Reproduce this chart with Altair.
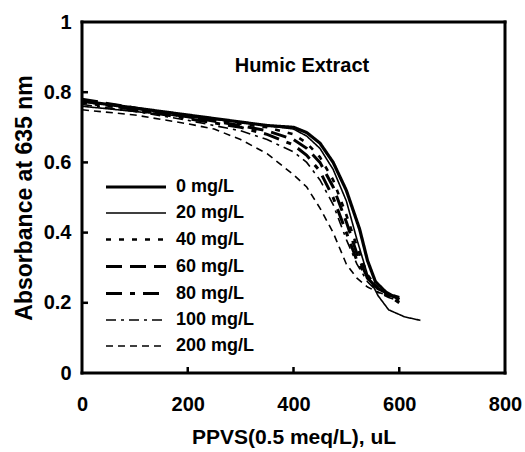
import altair as alt
import pandas as pd

# Titration curves: absorbance at 635 nm vs. PPVS volume added, one per humic extract dose
series_names = ["0 mg/L", "20 mg/L", "40 mg/L", "60 mg/L", "80 mg/L", "100 mg/L", "200 mg/L"]

x_0 = [0, 100, 200, 300, 350, 400, 425, 450, 475, 500, 525, 540, 555, 575, 600]
y_0 = [0.775, 0.755, 0.735, 0.715, 0.705, 0.70, 0.685, 0.655, 0.60, 0.52, 0.41, 0.32, 0.26, 0.23, 0.21]

x_20 = [0, 100, 200, 300, 350, 400, 425, 450, 475, 500, 520, 540, 560, 580, 610, 640]
y_20 = [0.76, 0.745, 0.73, 0.715, 0.705, 0.695, 0.675, 0.64, 0.58, 0.49, 0.38, 0.28, 0.22, 0.18, 0.16, 0.15]

x_40 = [0, 100, 200, 300, 350, 400, 425, 450, 475, 500, 520, 540, 560, 580, 600]
y_40 = [0.77, 0.75, 0.73, 0.71, 0.70, 0.68, 0.655, 0.615, 0.55, 0.45, 0.36, 0.28, 0.24, 0.22, 0.21]

x_60 = [0, 100, 200, 300, 350, 400, 425, 450, 475, 500, 520, 540, 560, 580, 600]
y_60 = [0.78, 0.755, 0.73, 0.705, 0.69, 0.665, 0.64, 0.60, 0.53, 0.43, 0.34, 0.27, 0.24, 0.225, 0.215]

x_80 = [0, 100, 200, 300, 350, 400, 425, 450, 475, 500, 520, 540, 560, 580, 600]
y_80 = [0.775, 0.75, 0.725, 0.70, 0.68, 0.65, 0.62, 0.575, 0.50, 0.40, 0.32, 0.27, 0.24, 0.22, 0.20]

x_100 = [0, 100, 200, 300, 350, 400, 425, 450, 475, 500, 520, 540, 560, 580, 600]
y_100 = [0.765, 0.745, 0.72, 0.69, 0.665, 0.63, 0.60, 0.55, 0.48, 0.38, 0.31, 0.26, 0.23, 0.215, 0.205]

x_200 = [0, 100, 200, 250, 300, 350, 400, 425, 450, 475, 500, 520, 540, 560, 580, 600]
y_200 = [0.75, 0.735, 0.71, 0.695, 0.665, 0.625, 0.565, 0.53, 0.47, 0.40, 0.31, 0.27, 0.245, 0.23, 0.22, 0.21]

xs = [x_0, x_20, x_40, x_60, x_80, x_100, x_200]
ys = [y_0, y_20, y_40, y_60, y_80, y_100, y_200]

# Axis ranges; the frame outlines the full domain
x_domain = [0, 800]
y_domain = [0, 1]

# Axis tick positions (ticks point into the plot)
x_ticks = [200, 400, 600]
y_ticks = [0.2, 0.4, 0.6, 0.8]

# Panel caption, placed in data units
caption_text = ["Humic Extract"]
caption_x = [416]
caption_y = [0.875]

PLOT_W, PLOT_H = 423, 351
FONT = "Liberation Sans"

x0, x1 = x_domain
y0, y1 = y_domain
ux = (x1 - x0) / PLOT_W   # data units per pixel, horizontally
uy = (y1 - y0) / PLOT_H   # data units per pixel, vertically

rows = []
for name, xv, yv in zip(series_names, xs, ys):
    for i, (a, b) in enumerate(zip(xv, yv)):
        rows.append({"series": name, "ppvs": a, "absorbance": b, "order": i})
df = pd.DataFrame(rows)
caption_df = pd.DataFrame({"text": caption_text, "ppvs": caption_x, "absorbance": caption_y})

# Frame edges and tick stubs as thin filled bars in data units
half = 1.5
bars = [
    {"xa": x0 - half * ux, "xb": x1 + half * ux, "ya": y0 - half * uy, "yb": y0 + half * uy},
    {"xa": x0 - half * ux, "xb": x1 + half * ux, "ya": y1 - half * uy, "yb": y1 + half * uy},
    {"xa": x0 - half * ux, "xb": x0 + half * ux, "ya": y0 - half * uy, "yb": y1 + half * uy},
    {"xa": x1 - half * ux, "xb": x1 + half * ux, "ya": y0 - half * uy, "yb": y1 + half * uy},
]
for t in x_ticks:
    bars.append({"xa": t - 1.25 * ux, "xb": t + 1.25 * ux, "ya": y0, "yb": y0 + 6 * uy})
for t in y_ticks:
    bars.append({"xa": x0, "xb": x0 + 6 * ux, "ya": t - 1.25 * uy, "yb": t + 1.25 * uy})
bars_df = pd.DataFrame(bars)

dash_patterns = [[1, 0], [1, 0], [5, 8], [16, 8], [16, 8, 5, 8], [10, 5, 3, 5], [7, 5]]
line_widths = [3.2, 1.6, 2.6, 3.0, 3.0, 1.6, 1.6]

x_scale = alt.Scale(domain=x_domain, nice=False)
y_scale = alt.Scale(domain=y_domain, nice=False)

lines = alt.Chart(df).mark_line(color="black", strokeCap="butt").encode(
    x=alt.X("ppvs:Q", scale=x_scale,
            axis=alt.Axis(title="PPVS(0.5 meq/L), uL", values=[0, 200, 400, 600, 800],
                          labelPadding=21, titlePadding=12, titleFontSize=21, labelFlush=False)),
    y=alt.Y("absorbance:Q", scale=y_scale,
            axis=alt.Axis(title="Absorbance at 635 nm", values=[0, 0.2, 0.4, 0.6, 0.8, 1],
                          labelPadding=11, titlePadding=7, titleFontSize=23,
                          labelExpr="datum.value == 0 || datum.value == 1 ? format(datum.value, 'd') : format(datum.value, '.1f')")),
    strokeDash=alt.StrokeDash("series:N",
                              scale=alt.Scale(type="ordinal", domain=series_names, range=dash_patterns),
                              legend=alt.Legend(title=None)),
    strokeWidth=alt.StrokeWidth("series:N",
                                scale=alt.Scale(type="ordinal", domain=series_names, range=line_widths),
                                legend=alt.Legend(title=None)),
    detail="series:N",
    order="order:Q",
)

frame = alt.Chart(bars_df).mark_rect(color="black", filled=True, opacity=1, strokeWidth=0).encode(
    x=alt.X("xa:Q", scale=x_scale),
    x2="xb:Q",
    y=alt.Y("ya:Q", scale=y_scale),
    y2="yb:Q",
)

caption = alt.Chart(caption_df).mark_text(
    font=FONT, fontSize=20, fontWeight="bold", color="black", baseline="middle", align="center"
).encode(
    x=alt.X("ppvs:Q", scale=x_scale),
    y=alt.Y("absorbance:Q", scale=y_scale),
    text="text:N",
)

chart = alt.layer(lines, frame, caption).properties(
    width=PLOT_W,
    height=PLOT_H,
    autosize=alt.AutoSizeParams(type="none"),
    padding={"left": 82, "top": 22, "right": 20, "bottom": 79},
).configure_view(
    stroke=None
).configure_axis(
    labelFont=FONT, labelFontSize=20, labelFontWeight="bold", labelColor="black",
    titleFont=FONT, titleFontWeight="bold", titleColor="black",
    grid=False, ticks=False, domain=False,
).configure_legend(
    orient="none", legendX=42, legendY=153,
    symbolType="M-3,0L3,0", symbolSize=400, symbolStrokeColor="black",
    labelFont=FONT, labelFontSize=18, labelFontWeight="bold", labelColor="black",
    rowPadding=6, labelOffset=28,
)

chart.save("out.html", embed_options={"renderer": "svg", "actions": False})
